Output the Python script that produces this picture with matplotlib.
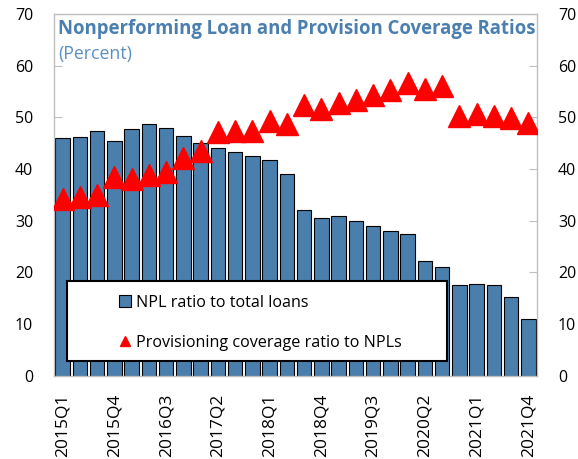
import matplotlib
matplotlib.use("Agg")
import matplotlib.pyplot as plt
from matplotlib.patches import Rectangle

quarters = [f"{y}Q{q}" for y in range(2015, 2022) for q in range(1, 5)]
npl_ratio = [45.9, 46.1, 47.4, 45.4, 47.8, 48.7, 47.9, 46.4, 45.0, 44.1,
             43.3, 42.6, 41.7, 39.0, 32.1, 30.5, 30.9, 30.0, 29.0, 27.9,
             27.4, 22.2, 21.0, 17.6, 17.8, 17.5, 15.2, 11.0]
coverage = [34.1, 34.5, 35.0, 38.4, 38.0, 38.8, 39.5, 42.1, 43.4, 47.2,
            47.4, 47.3, 49.2, 48.7, 52.3, 51.6, 52.7, 53.3, 54.4, 55.3,
            56.6, 55.5, 56.0, 50.2, 50.7, 50.3, 49.9, 48.9]
yticks = [0, 10, 20, 30, 40, 50, 60, 70]

plt.rcParams['font.family'] = ['Open Sans', 'DejaVu Sans']

fig = plt.figure(figsize=(5.78, 4.59), dpi=100)
ax = fig.add_axes([54/578, 1 - 375.6/459, 483/578, 361.6/459])

x = list(range(len(quarters)))
bars = ax.bar(x, npl_ratio, width=0.85, color='#4a7fad', edgecolor='black',
              linewidth=0.8, label='NPL ratio to total loans', zorder=2)
line, = ax.plot(x, coverage, linestyle='none', marker='^', markersize=16.5,
                color='#ff0000', label='Provisioning coverage ratio to NPLs', zorder=3)

ax.set_xlim(-0.5, len(quarters) - 0.5)
ax.set_ylim(0, 70)
ax.set_yticks(yticks)
ax.set_xticks(x[::3])
ax.set_xticklabels(quarters[::3], rotation=90, fontsize=12.5)
ax.tick_params(axis='x', length=0, pad=13)
ax.tick_params(axis='y', direction='in', length=6, color='#bfbfbf',
               labelsize=11.5, pad=15, right=True, labelright=True)
for s in ax.spines.values():
    s.set_color('#bfbfbf')
    s.set_linewidth(1.0)

# legend frame
ax.add_patch(Rectangle((13/483, (375.6-361)/361.6), 380/483, 80/361.6,
                       transform=ax.transAxes, facecolor='white',
                       edgecolor='black', linewidth=1.5, zorder=4))
leg = ax.legend(handles=[bars, line], loc='upper left',
                bbox_to_anchor=((65/483), (375.6-295)/361.6),
                frameon=False, fontsize=11.6, handlelength=0.75, handleheight=0.75,
                handletextpad=0.3, labelspacing=1.5, markerscale=0.42,
                borderpad=0, borderaxespad=0)
leg.set_zorder(5)

fig.text(58/578, 1 - 34/459, 'Nonperforming Loan and Provision Coverage Ratios',
         fontsize=13.35, fontweight='bold', color='#4a7fb0', ha='left', va='baseline')
fig.text(58/578, 1 - 59/459, '(Percent)', fontsize=12.8, color='#5b8fc2',
         ha='left', va='baseline')

fig.savefig('out.png', dpi=100)
